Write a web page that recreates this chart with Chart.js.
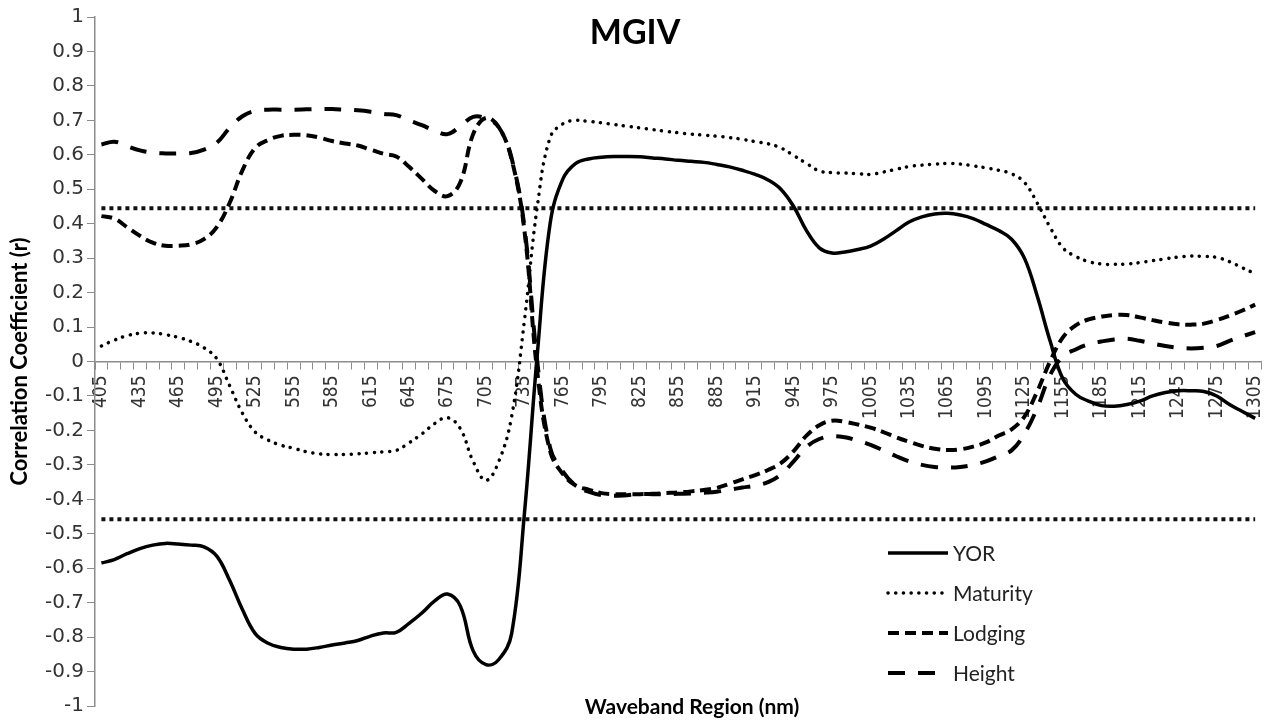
<!DOCTYPE html>
<html>
<head>
<meta charset="utf-8">
<title>MGIV</title>
<script src="https://cdn.jsdelivr.net/npm/chart.js@4.4.0/dist/chart.umd.min.js"></script>
<style>
	html, body { margin: 0; padding: 0; background: #fff; }
	#wrap { position: relative; width: 1285px; height: 721px; }
</style>
</head>
<body>
<div id="wrap"><canvas id="mycanvas"></canvas></div>
<script>
// waveband centres (nm)
var wavebands = [
	405, 415, 425, 435, 445, 455, 465, 475, 485, 495,
	505, 515, 525, 535, 545, 555, 565, 575, 585, 595,
	605, 615, 625, 635, 645, 655, 665, 675, 685, 695,
	705, 715, 725, 735, 745, 755, 765, 775, 785, 795,
	805, 815, 825, 835, 845, 855, 865, 875, 885, 895,
	905, 915, 925, 935, 945, 955, 965, 975, 985, 995,
	1005, 1015, 1025, 1035, 1045, 1055, 1065, 1075, 1085, 1095,
	1105, 1115, 1125, 1135, 1145, 1155, 1165, 1175, 1185, 1195,
	1205, 1215, 1225, 1235, 1245, 1255, 1265, 1275, 1285, 1295,
	1305
];

var yor = [
	-0.585, -0.575, -0.558, -0.543, -0.533, -0.528, -0.530, -0.533, -0.538, -0.565,
	-0.635, -0.720, -0.790, -0.818, -0.830, -0.835, -0.835, -0.830, -0.823, -0.817,
	-0.810, -0.797, -0.788, -0.786, -0.760, -0.730, -0.695, -0.675, -0.710, -0.840,
	-0.880, -0.865, -0.790, -0.440, 0.020, 0.400, 0.530, 0.575, 0.588, 0.593,
	0.595, 0.595, 0.594, 0.591, 0.588, 0.584, 0.581, 0.578, 0.572, 0.565,
	0.555, 0.543, 0.527, 0.500, 0.450, 0.380, 0.330, 0.315, 0.318, 0.325,
	0.335, 0.355, 0.380, 0.405, 0.420, 0.428, 0.430, 0.425, 0.415, 0.398,
	0.380, 0.355, 0.300, 0.190, 0.060, -0.050, -0.095, -0.115, -0.128, -0.130,
	-0.125, -0.115, -0.100, -0.090, -0.085, -0.085, -0.087, -0.100, -0.125, -0.145,
	-0.165
];

var maturity = [
	0.045, 0.062, 0.075, 0.082, 0.083, 0.078, 0.070, 0.058, 0.040, 0.008,
	-0.070, -0.150, -0.205, -0.228, -0.243, -0.252, -0.262, -0.268, -0.270, -0.270,
	-0.268, -0.265, -0.262, -0.258, -0.236, -0.210, -0.180, -0.163, -0.195, -0.290,
	-0.345, -0.290, -0.160, 0.120, 0.450, 0.650, 0.690, 0.700, 0.697, 0.693,
	0.688, 0.683, 0.678, 0.673, 0.668, 0.664, 0.660, 0.657, 0.654, 0.650,
	0.645, 0.638, 0.632, 0.620, 0.598, 0.575, 0.553, 0.548, 0.547, 0.545,
	0.543, 0.550, 0.558, 0.566, 0.570, 0.573, 0.575, 0.573, 0.568, 0.562,
	0.555, 0.545, 0.520, 0.460, 0.390, 0.330, 0.305, 0.290, 0.283, 0.282,
	0.283, 0.287, 0.293, 0.298, 0.303, 0.306, 0.305, 0.302, 0.290, 0.272,
	0.255
];

var lodging = [
	0.422, 0.415, 0.390, 0.365, 0.345, 0.336, 0.336, 0.340, 0.355, 0.390,
	0.460, 0.555, 0.620, 0.643, 0.655, 0.658, 0.657, 0.650, 0.640, 0.633,
	0.627, 0.615, 0.603, 0.595, 0.565, 0.530, 0.495, 0.480, 0.520, 0.660,
	0.707, 0.680, 0.587, 0.380, -0.030, -0.260, -0.327, -0.360, -0.372, -0.382,
	-0.385, -0.385, -0.385, -0.384, -0.382, -0.380, -0.377, -0.373, -0.367, -0.355,
	-0.342, -0.330, -0.315, -0.295, -0.260, -0.215, -0.185, -0.172, -0.175, -0.183,
	-0.192, -0.205, -0.220, -0.233, -0.245, -0.253, -0.257, -0.255, -0.247, -0.235,
	-0.215, -0.197, -0.160, -0.087, 0.000, 0.070, 0.105, 0.122, 0.130, 0.135,
	0.135, 0.128, 0.120, 0.113, 0.108, 0.107, 0.110, 0.120, 0.133, 0.148,
	0.165
];

var height = [
	0.630, 0.638, 0.625, 0.613, 0.606, 0.604, 0.604, 0.605, 0.615, 0.635,
	0.678, 0.712, 0.728, 0.731, 0.731, 0.731, 0.732, 0.733, 0.733, 0.731,
	0.729, 0.725, 0.719, 0.715, 0.700, 0.686, 0.670, 0.660, 0.683, 0.710,
	0.705, 0.680, 0.590, 0.390, 0.000, -0.250, -0.320, -0.360, -0.378, -0.388,
	-0.390, -0.388, -0.385, -0.385, -0.385, -0.384, -0.383, -0.381, -0.378, -0.372,
	-0.366, -0.360, -0.350, -0.328, -0.290, -0.248, -0.225, -0.217, -0.220, -0.230,
	-0.242, -0.258, -0.275, -0.290, -0.300, -0.306, -0.308, -0.306, -0.300, -0.290,
	-0.275, -0.258, -0.210, -0.135, -0.040, 0.015, 0.035, 0.050, 0.058, 0.064,
	0.066, 0.060, 0.052, 0.045, 0.040, 0.038, 0.040, 0.045, 0.060, 0.073,
	0.085
];

// significance levels (dotted horizontal lines)
var sigUpper = 0.445;
var sigLower = -0.458;

var labelStep = 3;   // every 30 nm
var gray = '#8c8c8c';
var font = 'Lato';
var narrow = "'Liberation Sans Narrow', 'DejaVu Sans Condensed', sans-serif";
var wide = "'DejaVu Sans', sans-serif";

var series = [
	{label: 'YOR', data: yor, borderWidth: 3.5, borderDash: [], borderCapStyle: 'butt'},
	{label: 'Maturity', data: maturity, borderWidth: 3.5, borderDash: [0.1, 7.6], borderCapStyle: 'round'},
	{label: 'Lodging', data: lodging, borderWidth: 4, borderDash: [11, 6], borderCapStyle: 'butt'},
	{label: 'Height', data: height, borderWidth: 4, borderDash: [17, 13], borderCapStyle: 'butt'}
];

var datasets = [];
for (var i in series) {
	datasets.push({
		label: series[i].label,
		data: series[i].data,
		borderColor: '#000',
		backgroundColor: '#000',
		borderWidth: series[i].borderWidth,
		borderDash: series[i].borderDash,
		borderCapStyle: series[i].borderCapStyle,
		pointRadius: 0,
		tension: 0.4,
		fill: false
	});
}
var sigs = [sigUpper, sigLower];
for (var j in sigs) {
	datasets.push({
		label: 'sig',
		data: wavebands.map(function() { return sigs[j]; }),
		borderColor: '#111',
		borderWidth: 4,
		borderDash: [4, 4],
		pointRadius: 0,
		tension: 0,
		fill: false
	});
}

// title, x axis title and the legend box inside the plot
var overlay = {
	id: 'overlay',
	afterDraw: function(chart) {
		var c = chart.ctx;
		c.save();
		c.fillStyle = '#000';
		c.textAlign = 'center';
		c.textBaseline = 'middle';
		c.font = 'bold 34px ' + font;
		c.fillText('MGIV', 635, 33);
		c.font = 'bold 21px ' + font;
		c.fillText('Waveband Region (nm)', 692, 707);

		var top = 553;
		for (var k = 0; k < 4; k++) {
			var ds = chart.data.datasets[k];
			var y = top + k * 40;
			c.beginPath();
			c.setLineDash(ds.borderDash);
			c.lineCap = ds.borderCapStyle;
			c.lineWidth = ds.borderWidth;
			c.strokeStyle = '#000';
			c.moveTo(888, y);
			c.lineTo(948, y);
			c.stroke();
			c.setLineDash([]);
			c.font = '21px ' + font;
			c.fillStyle = '#222';
			c.textAlign = 'left';
			c.fillText(ds.label, 953, y + 1);
		}
		c.restore();
	}
};

var ctx = document.getElementById('mycanvas');

var lineGraph = new Chart(ctx, {
	type: 'line',
	data: {
		labels: wavebands,
		datasets: datasets
	},
	options: {
		responsive: true,
		maintainAspectRatio: false,
		animation: false,
		layout: {padding: {top: 17, right: 8, bottom: 11, left: 0}},
		plugins: {
			legend: {display: false},
			tooltip: {enabled: false},
			title: {display: false}
		},
		scales: {
			x: {
				type: 'category',
				position: {y: 0},
				offset: true,
				grid: {offset: true, drawOnChartArea: false, drawTicks: true, tickLength: 7, color: gray, lineWidth: 1},
				border: {color: gray, width: 1.5},
				ticks: {
					autoSkip: false,
					minRotation: 90,
					maxRotation: 90,
					padding: 7,
					color: '#333',
					font: {family: narrow, size: 19},
					callback: function(val, idx) {
						return idx % labelStep === 0 ? this.getLabelForValue(val) : '';
					}
				}
			},
			y: {
				min: -1,
				max: 1,
				afterFit: function(scale) { scale.width = 95; },
				grid: {drawOnChartArea: false, drawTicks: true, tickLength: 8, color: gray},
				border: {color: gray, width: 1.5},
				ticks: {
					stepSize: 0.1,
					padding: 3,
					color: '#333',
					font: {family: wide, size: 20},
					callback: function(v) { return String(Math.round(v * 10) / 10); }
				},
				title: {
					display: true,
					text: 'Correlation Coefficient (r)',
					color: '#000',
					font: {family: font, size: 22, weight: 'bold'},
					padding: {top: 7, bottom: 0}
				}
			}
		}
	},
	plugins: [overlay]
});
</script>
</body>
</html>
